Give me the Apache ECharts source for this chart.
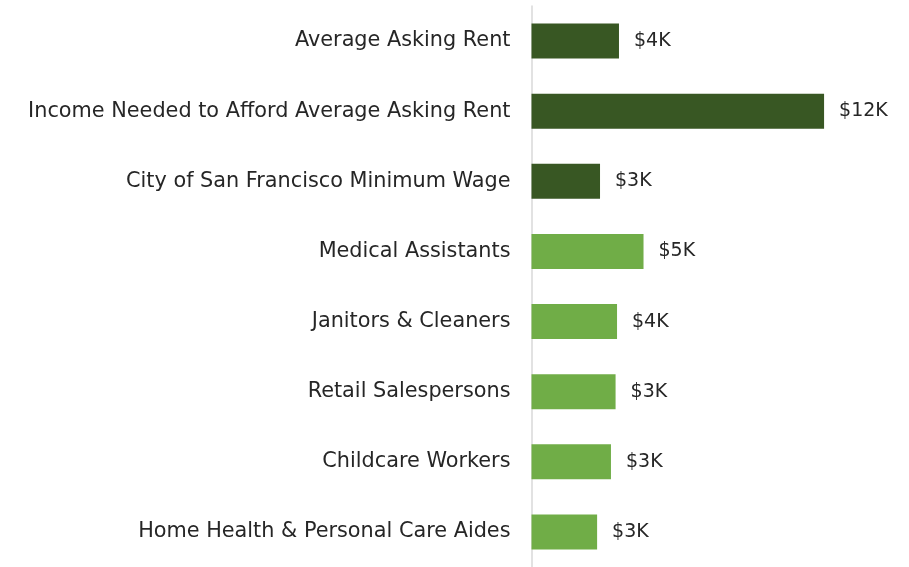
<!DOCTYPE html>
<html>
<head>
<meta charset="utf-8">
<script src="https://cdn.jsdelivr.net/npm/echarts@6/dist/echarts.min.js"></script>
<style>
html,body{margin:0;padding:0;background:#fff;}
#chart{width:909px;height:567px;}
</style>
</head>
<body>
<div id="chart"></div>
<script>
const categories = [
  "Average Asking Rent",
  "Income Needed to Afford Average Asking Rent",
  "City of San Francisco Minimum Wage",
  "Medical Assistants",
  "Janitors & Cleaners",
  "Retail Salespersons",
  "Childcare Workers",
  "Home Health & Personal Care Aides"
];
const monthlyValues = [3600, 12040, 2820, 4610, 3520, 3460, 3270, 2700];
const highlightCount = 3;

const darkGreen = "#385723";
const lightGreen = "#70AD47";

const chart = echarts.init(document.getElementById("chart"), null, {renderer: "canvas"});
const font = "DejaVu Sans";
chart.setOption({
  animation: false,
  grid: {left: 531.5, width: 364.5, top: 6, height: 564, containLabel: false},
  xAxis: {
    type: "value", min: 0, max: 15000,
    show: false
  },
  yAxis: {
    type: "category",
    data: categories,
    inverse: true,
    axisLine: {show: true, lineStyle: {color: "#d9d9d9", width: 1.5}},
    axisTick: {show: false},
    axisLabel: {color: "#262626", fontSize: 20.8, fontFamily: font, margin: 21}
  },
  series: [{
    type: "bar",
    barWidth: "50%",
    data: monthlyValues.map((v, i) => ({
      value: v,
      itemStyle: {color: i < highlightCount ? darkGreen : lightGreen}
    })),
    label: {
      show: true, position: "right", distance: 15,
      color: "#262626", fontSize: 19, fontFamily: font,
      formatter: p => "$" + Math.round(p.value / 1000) + "K"
    }
  }]
});
</script>
</body>
</html>
